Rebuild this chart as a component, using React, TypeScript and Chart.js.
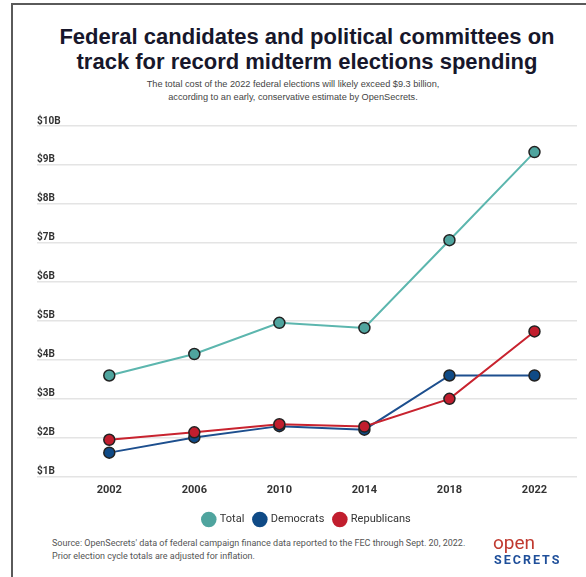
import React, { useEffect, useRef } from "react";
import { Chart, registerables } from "chart.js";

Chart.register(...registerables);

const years = [2002, 2006, 2010, 2014, 2018, 2022];
const totalValues = [3.6, 4.15, 4.95, 4.82, 7.07, 9.33];
const demValues = [1.62, 2.01, 2.3, 2.21, 3.6, 3.6];
const repValues = [1.95, 2.14, 2.35, 2.29, 3.0, 4.73];
const yTicks = [1, 2, 3, 4, 5, 6, 7, 8, 9, 10];
const seriesNames = ["Total", "Democrats", "Republicans"];

const lineColors = ["#5cb6ae", "#1d4f8e", "#c8232f"];
const pointColors = ["#4fa49e", "#0f4a86", "#c11e2e"];

const yLabelPlugin = {
  id: "yLabelPlugin",
  beforeDatasetsDraw(chart: any) {
    const { ctx, chartArea, scales } = chart;
    const y = scales.y;
    ctx.save();
    ctx.font = "bold 10px Roboto";
    ctx.fillStyle = "#333333";
    ctx.textAlign = "left";
    ctx.textBaseline = "alphabetic";
    yTicks.forEach((v) => {
      ctx.fillText("$" + v + "B", chartArea.left, y.getPixelForValue(v) - 2.5);
    });
    ctx.restore();
  },
};

function ChartBox() {
  const ref = useRef<HTMLCanvasElement>(null);
  useEffect(() => {
    if (!ref.current) return;
    const all = [totalValues, demValues, repValues];
    const chart = new Chart(ref.current, {
      type: "line",
      data: {
        datasets: all.map((vals, i) => ({
          label: seriesNames[i],
          data: years.map((yr, j) => ({ x: yr, y: vals[j] })),
          borderColor: lineColors[i],
          backgroundColor: pointColors[i],
          borderWidth: 2,
          pointRadius: 5.5,
          pointBorderWidth: 1.5,
          pointBorderColor: "#222222",
          pointBackgroundColor: pointColors[i],
          order: i === 0 ? 0 : i === 1 ? 2 : 1,
        })),
      },
      options: {
        responsive: false,
        animation: false,
        devicePixelRatio: 1,
        layout: { padding: { left: 37, right: 9, top: 16, bottom: 0 } },
        scales: {
          x: {
            type: "linear",
            min: 1998.6,
            max: 2024,
            afterBuildTicks: (axis: any) => {
              axis.ticks = years.map((v) => ({ value: v }));
            },
            grid: { display: false, drawTicks: false },
            border: { display: false },
            ticks: {
              font: { family: "Roboto", size: 11, weight: "bold" },
              color: "#333333",
              padding: 7,
              maxRotation: 0,
              callback: (v: any) => String(v),
            },
          },
          y: {
            min: 1,
            max: 10,
            afterBuildTicks: (axis: any) => {
              axis.ticks = yTicks.map((v) => ({ value: v }));
            },
            ticks: { display: false },
            border: { display: false },
            grid: { color: "#e4e4e4", lineWidth: 1.5, drawTicks: false },
          },
        },
        plugins: {
          legend: {
            position: "bottom",
            labels: {
              usePointStyle: true,
              pointStyle: "circle",
              font: { family: "Roboto", size: 11 },
              color: "#333333",
              padding: 10,
              generateLabels: () =>
                seriesNames.map((n, i) => ({
                  text: n,
                  fillStyle: pointColors[i],
                  strokeStyle: pointColors[i],
                  lineWidth: 0,
                  pointStyle: "circle",
                  hidden: false,
                  datasetIndex: i,
                  fontColor: "#333333",
                })),
            },
          },
          tooltip: { enabled: false },
        },
      },
      plugins: [yLabelPlugin],
    } as any);
    return () => chart.destroy();
  }, []);
  return <canvas ref={ref} width={586} height={425} style={{ display: "block" }} />;
}

export default function App() {
  return (
    <div
      style={{
        position: "fixed",
        left: 0,
        top: 0,
        width: 586,
        height: 577,
        background: "#ffffff",
        overflow: "hidden",
      }}
    >
      <div
        style={{
          position: "absolute",
          left: 11,
          top: 3,
          width: 600,
          height: 600,
          borderLeft: "2px solid #5a5a5a",
          borderTop: "2px solid #5a5a5a",
        }}
      />
      <div
        style={{
          position: "absolute",
          left: 14,
          width: 586,
          top: 24,
          textAlign: "center",
          fontFamily: "'Liberation Sans', Arial, sans-serif",
          fontWeight: "bold",
          fontSize: 22,
          lineHeight: "25px",
          color: "#17172b",
        }}
      >
        Federal candidates and political committees on
        <br />
        track for record midterm elections spending
      </div>
      <div
        style={{
          position: "absolute",
          left: 0,
          width: 586,
          top: 78,
          textAlign: "center",
          fontFamily: "'Liberation Sans', Arial, sans-serif",
          fontSize: 9.2,
          lineHeight: "13px",
          color: "#444444",
        }}
      >
        The total cost of the 2022 federal elections will likely exceed $9.3 billion,
        <br />
        according to an early, conservative estimate by OpenSecrets.
      </div>
      <div style={{ position: "absolute", left: 0, top: 110 }}>
        <ChartBox />
      </div>
      <div
        style={{
          position: "absolute",
          left: 52,
          top: 537,
          fontFamily: "Roboto, sans-serif",
          fontSize: 9,
          lineHeight: "13px",
          color: "#555555",
          whiteSpace: "nowrap",
        }}
      >
        Source: OpenSecrets' data of federal campaign finance data reported to the FEC through Sept. 20, 2022.
        <br />
        Prior election cycle totals are adjusted for inflation.
      </div>
      <div
        style={{
          position: "absolute",
          left: 493,
          top: 533,
          fontFamily: "Roboto, sans-serif",
          fontSize: 19,
          lineHeight: "19px",
          color: "#c0392f",
          letterSpacing: 0,
        }}
      >
        open
      </div>
      <div
        style={{
          position: "absolute",
          left: 494,
          top: 553,
          fontFamily: "Roboto, sans-serif",
          fontWeight: "bold",
          fontSize: 12.5,
          lineHeight: "13px",
          color: "#1f4f9a",
          letterSpacing: 2,
        }}
      >
        SECRETS
      </div>
    </div>
  );
}
